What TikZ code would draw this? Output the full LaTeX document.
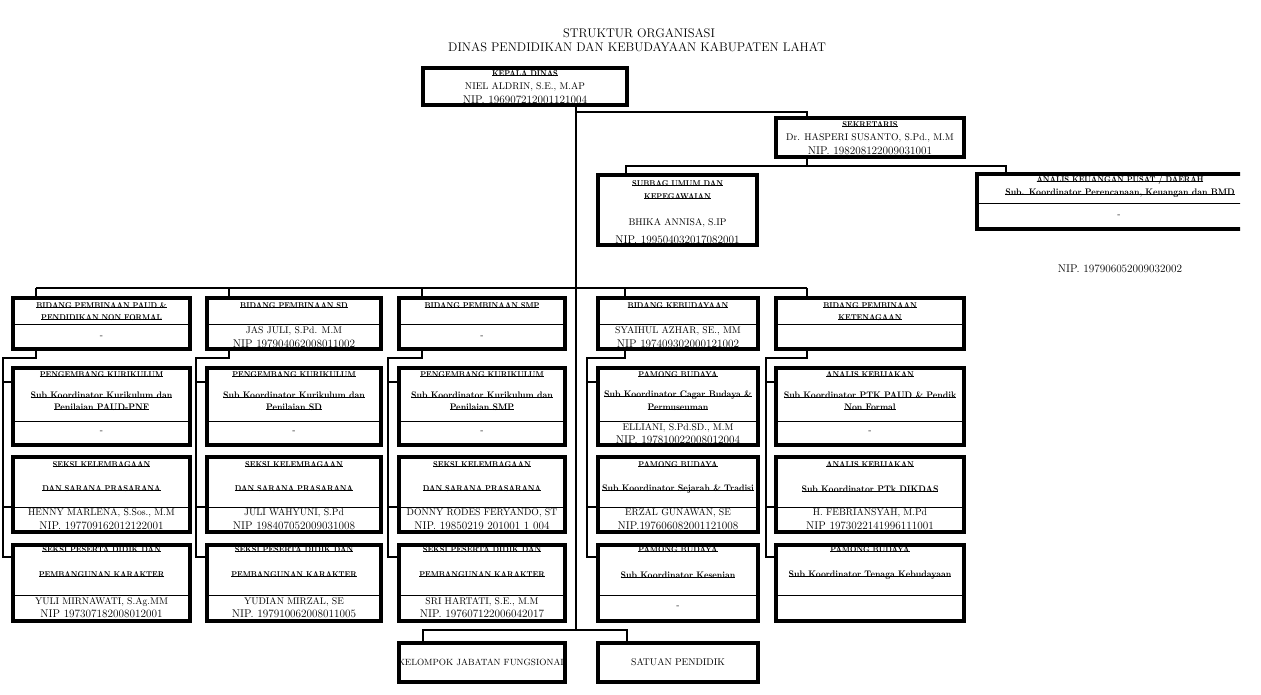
\documentclass[tikz,border=0pt]{standalone}
\usepackage{fontspec}
\usepackage{graphicx}
\usetikzlibrary{fit}

\newcommand{\strk}[2][0.85]{\setbox0=\hbox{\scalebox{#1}[1]{#2}}\rlap{\rule[0.25ex]{\wd0}{0.6pt}}\box0}

\tikzset{
  orgbox/.style={draw, line width=3.2pt, inner sep=0pt},
  conn/.style={line width=2.8pt},
  divline/.style={line width=0.8pt},
  ttl/.style={font=\fontsize{12.5}{14}\selectfont, inner sep=0pt},
  hd/.style={font=\fontsize{8.5}{9}\selectfont\bfseries, inner sep=0pt},
  sub/.style={font=\fontsize{9.5}{10}\selectfont\bfseries, inner sep=0pt},
  nm/.style={font=\fontsize{9.7}{11}\selectfont, inner sep=0pt},
  nip/.style={font=\fontsize{11.2}{12}\selectfont, inner sep=0pt},
}

\begin{document}
\begin{tikzpicture}[x=1pt,y=-1pt]
  \useasboundingbox (0,0) rectangle (1261,695);

  \node[ttl] (title1) at (639,33) {STRUKTUR ORGANISASI};
  \node[ttl] (title2) at (637,47) {DINAS PENDIDIKAN DAN KEBUDAYAAN KABUPATEN LAHAT};

  % pimpinan
  \node[orgbox, fit={(423,68) (627,105)}] (kadis) {};
  \node[hd] (kadis-a) at (kadis |- 0,74) {\strk{KEPALA DINAS}};
  \node[nm] (kadis-b) at (kadis |- 0,87) {NIEL ALDRIN, S.E., M.AP};
  \node[nip] (kadis-c) at (kadis |- 0,100) {NIP. 196907212001121004};

  \node[orgbox, fit={(776,118) (964,157)}] (sekr) {};
  \node[hd] (sekr-a) at (sekr |- 0,125) {\strk{SEKRETARIS}};
  \node[nm] (sekr-b) at (sekr |- 0,138) {Dr. HASPERI SUSANTO, S.Pd., M.M};
  \node[nip] (sekr-c) at (sekr |- 0,151) {NIP. 198208122009031001};

  \node[orgbox, fit={(598,175) (757,245)}] (subbag) {};
  \node[hd] (subbag-a) at (subbag |- 0,184) {\strk{SUBBAG UMUM DAN}};
  \node[hd] (subbag-b) at (subbag |- 0,197) {\strk{KEPEGAWAIAN}};
  \node[nm] (subbag-c) at (subbag |- 0,223) {BHIKA ANNISA, S.IP};
  \node[nip] (subbag-d) at (subbag |- 0,240) {NIP. 199504032017082001};

  \begin{scope}
    \clip (0,0) rectangle (1240,695);
    \node[orgbox, fit={(977,174) (1262,229)}] (anku) {};
    \draw[divline] (anku.west |- 0,203) -- (anku.east |- 0,203);
    \node[hd] (anku-a) at (1120,180) {\strk{ANALIS KEUANGAN PUSAT / DAERAH}};
    \node[sub] (anku-b) at (1120,193) {\strk[0.9]{Sub. Koordinator Perencanaan, Keuangan dan BMD}};
    \node[nm] (anku-c) at (1119,216) {-};
  \end{scope}
  \node[nip] (anku-nip) at (1120,269) {NIP. 197906052009032002};

  \coordinate (jf) at (576,630);
  \draw[conn] (kadis.south -| jf) -- (jf);
  \draw[conn] (576,112) -| (sekr.north -| 807,0);
  \draw[conn] (sekr.south -| 807,0) -- (807,166);
  \draw[conn] (subbag.north -| 626,0) -- (626,166) -- (1006,166) -- (anku.north -| 1006,0);

  % bidang dan sub koordinator
  \draw[conn] (36,288) -- (807,288);
  \foreach \c/\xa/\xb/\d/\s in {1/13/190/36/3, 2/207/381/229/196, 3/399/565/422/388,
                                4/598/758/625/587, 5/776/964/807/766} {
    \node[orgbox, fit={(\xa,298) (\xb,349)}] (bid\c) {};
    \node[orgbox, fit={(\xa,368) (\xb,445)}] (ka\c) {};
    \node[orgbox, fit={(\xa,457) (\xb,532)}] (kb\c) {};
    \node[orgbox, fit={(\xa,545) (\xb,621)}] (kc\c) {};
    \draw[divline] (bid\c.west |- 0,324) -- (bid\c.east |- 0,324);
    \draw[divline] (ka\c.west |- 0,421) -- (ka\c.east |- 0,421);
    \draw[divline] (kb\c.west |- 0,507) -- (kb\c.east |- 0,507);
    \draw[divline] (kc\c.west |- 0,595) -- (kc\c.east |- 0,595);
    \draw[conn] (\d,288) -- (bid\c.north -| \d,0);
    \draw[conn] (bid\c.south -| \d,0) -- (\d,358) -| (\s,557) -- (kc\c.west |- 0,557);
    \draw[conn] (\s,382) -- (ka\c.west |- 0,382);
    \draw[conn] (\s,507) -- (kb\c.west |- 0,507);
  }

  \node[hd] (bid1-a) at (bid1 |- 0,306) {\strk{BIDANG PEMBINAAN PAUD \&}};
  \node[hd] (bid1-b) at (bid1 |- 0,318) {\strk{PENDIDIKAN NON FORMAL}};
  \node[nm] (bid1-c) at (bid1 |- 0,337) {-};
  \node[hd] (bid2-a) at (bid2 |- 0,306) {\strk{BIDANG PEMBINAAN SD}};
  \node[nm] (bid2-c) at (bid2 |- 0,331) {JAS JULI, S.Pd. M.M};
  \node[nip] (bid2-d) at (bid2 |- 0,344) {NIP 197904062008011002};
  \node[hd] (bid3-a) at (bid3 |- 0,306) {\strk{BIDANG PEMBINAAN SMP}};
  \node[nm] (bid3-c) at (bid3 |- 0,337) {-};
  \node[hd] (bid4-a) at (bid4 |- 0,306) {\strk{BIDANG KEBUDAYAAN}};
  \node[nm] (bid4-c) at (bid4 |- 0,331) {SYAIHUL AZHAR, SE., MM};
  \node[nip] (bid4-d) at (bid4 |- 0,344) {NIP 197409302000121002};
  \node[hd] (bid5-a) at (bid5 |- 0,306) {\strk{BIDANG PEMBINAAN}};
  \node[hd] (bid5-b) at (bid5 |- 0,318) {\strk{KETENAGAAN}};

  \foreach \c in {1,2,3} {
    \node[hd] (ka\c-a) at (ka\c |- 0,375) {\strk{PENGEMBANG KURIKULUM}};
    \node[sub] (ka\c-b) at (ka\c |- 0,395) {\strk[0.9]{Sub Koordinator Kurikulum dan}};
    \node[nm] (ka\c-d) at (ka\c |- 0,432) {-};
    \node[hd] (kb\c-a) at (kb\c |- 0,465) {\strk{SEKSI KELEMBAGAAN}};
    \node[hd] (kb\c-b) at (kb\c |- 0,489) {\strk{DAN SARANA PRASARANA}};
    \node[hd] (kc\c-a) at (kc\c |- 0,550) {\strk{SEKSI PESERTA DIDIK DAN}};
    \node[hd] (kc\c-b) at (kc\c |- 0,575) {\strk{PEMBANGUNAN KARAKTER}};
  }
  \node[sub] (ka1-c) at (ka1 |- 0,407) {\strk[0.9]{Penilaian PAUD-PNF}};
  \node[sub] (ka2-c) at (ka2 |- 0,407) {\strk[0.9]{Penilaian SD}};
  \node[sub] (ka3-c) at (ka3 |- 0,407) {\strk[0.9]{Penilaian SMP}};

  \node[nm] (kb1-c) at (kb1 |- 0,513) {HENNY MARLENA, S.Sos., M.M};
  \node[nip] (kb1-d) at (kb1 |- 0,526) {NIP. 197709162012122001};
  \node[nm] (kb2-c) at (kb2 |- 0,513) {JULI WAHYUNI, S.Pd};
  \node[nip] (kb2-d) at (kb2 |- 0,526) {NIP 198407052009031008};
  \node[nm] (kb3-c) at (kb3 |- 0,513) {DONNY RODES FERYANDO, ST};
  \node[nip] (kb3-d) at (kb3 |- 0,526) {NIP. 19850219 201001 1 004};

  \node[nm] (kc1-c) at (kc1 |- 0,602) {YULI MIRNAWATI, S.Ag.MM};
  \node[nip] (kc1-d) at (kc1 |- 0,614) {NIP 197307182008012001};
  \node[nm] (kc2-c) at (kc2 |- 0,602) {YUDIAN MIRZAL, SE};
  \node[nip] (kc2-d) at (kc2 |- 0,614) {NIP. 197910062008011005};
  \node[nm] (kc3-c) at (kc3 |- 0,602) {SRI HARTATI, S.E., M.M};
  \node[nip] (kc3-d) at (kc3 |- 0,614) {NIP. 197607122006042017};

  % kebudayaan
  \node[hd] (ka4-a) at (ka4 |- 0,375) {\strk{PAMONG BUDAYA}};
  \node[sub] (ka4-b) at (ka4 |- 0,395) {\strk[0.9]{Sub Koordinator Cagar Budaya \&}};
  \node[sub] (ka4-c) at (ka4 |- 0,407) {\strk[0.9]{Permuseuman}};
  \node[nm] (ka4-d) at (ka4 |- 0,428) {ELLIANI, S.Pd.SD., M.M};
  \node[nip] (ka4-e) at (ka4 |- 0,440) {NIP. 197810022008012004};
  \node[hd] (kb4-a) at (kb4 |- 0,465) {\strk{PAMONG BUDAYA}};
  \begin{scope}
    \clip (kb4.north west) rectangle (kb4.south east);
    \node[sub] (kb4-b) at (kb4 |- 0,489) {\strk[0.9]{Sub Koordinator Sejarah \& Tradisi}};
  \end{scope}
  \node[nm] (kb4-c) at (kb4 |- 0,513) {ERZAL GUNAWAN, SE};
  \node[nip] (kb4-d) at (kb4 |- 0,526) {NIP.197606082001121008};
  \node[hd] (kc4-a) at (kc4 |- 0,550) {\strk{PAMONG BUDAYA}};
  \node[sub] (kc4-b) at (kc4 |- 0,575) {\strk[0.9]{Sub Koordinator Kesenian}};
  \node[nm] (kc4-c) at (kc4 |- 0,607) {-};

  % ketenagaan
  \node[hd] (ka5-a) at (ka5 |- 0,375) {\strk{ANALIS KEBIJAKAN}};
  \node[sub] (ka5-b) at (ka5 |- 0,395) {\strk[0.9]{Sub Koordinator PTK PAUD \& Pendik}};
  \node[sub] (ka5-c) at (ka5 |- 0,407) {\strk[0.9]{Non Formal}};
  \node[nm] (ka5-d) at (ka5 |- 0,432) {-};
  \node[hd] (kb5-a) at (kb5 |- 0,465) {\strk{ANALIS KEBIJAKAN}};
  \node[sub] (kb5-b) at (kb5 |- 0,489) {\strk[0.9]{Sub Koordinator PTk DIKDAS}};
  \node[nm] (kb5-c) at (kb5 |- 0,513) {H. FEBRIANSYAH, M.Pd};
  \node[nip] (kb5-d) at (kb5 |- 0,526) {NIP 1973022141996111001};
  \node[hd] (kc5-a) at (kc5 |- 0,550) {\strk{PAMONG BUDAYA}};
  \node[sub] (kc5-b) at (kc5 |- 0,575) {\strk[0.9]{Sub Koordinator Tenaga Kebudayaan}};

  % fungsional
  \node[orgbox, fit={(399,643) (565,682)}] (kjf) {};
  \node[orgbox, fit={(598,643) (758,682)}] (satdik) {};
  \begin{scope}
    \clip (kjf.north west) rectangle (kjf.south east);
    \node[nm, font=\fontsize{9}{10}\selectfont] (kjf-a) at (kjf) {KELOMPOK JABATAN FUNGSIONAL};
  \end{scope}
  \node[nm] (satdik-a) at (satdik) {SATUAN PENDIDIK};
  \draw[conn] (kjf.north -| 423,0) -- (423,630) -- (jf) -- (627,630) -- (satdik.north -| 627,0);
\end{tikzpicture}
\end{document}
